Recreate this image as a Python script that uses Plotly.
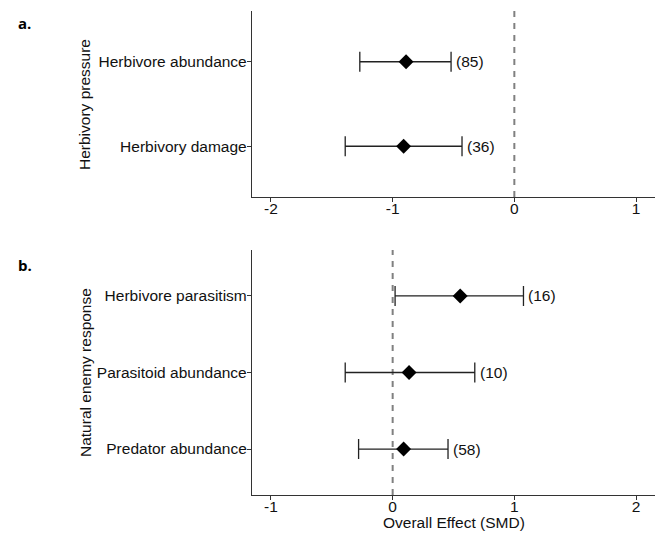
import plotly.graph_objects as go

# ---- data ----
pressure_cats = ["Herbivory damage", "Herbivore abundance"]
pressure_mean = [-0.91, -0.89]
pressure_lo = [-1.39, -1.27]
pressure_hi = [-0.43, -0.52]
pressure_n = ["(36)", "(85)"]

enemy_cats = ["Predator abundance", "Parasitoid abundance", "Herbivore parasitism"]
enemy_mean = [0.09, 0.135, 0.555]
enemy_lo = [-0.28, -0.39, 0.02]
enemy_hi = [0.455, 0.675, 1.075]
enemy_n = ["(58)", "(10)", "(16)"]

top_ticks = [-2, -1, 0, 1]
bottom_ticks = [-1, 0, 1, 2]

FONT = "Liberation Sans, Arial, sans-serif"
FS = 15.5
OFF = 8              # page body margin
W, H = 664 - OFF, 534 - OFF


def fx(px):
    return (px - OFF) / W


def fy(py):
    return (H - (py - OFF)) / H


fig = go.Figure()


def add_panel(cats, mean, lo, hi, xa, ya):
    fig.add_trace(go.Scatter(
        x=mean, y=cats, mode="markers",
        marker=dict(symbol="diamond", size=11.5, color="black"),
        error_x=dict(type="data", symmetric=False,
                     array=[h - m for h, m in zip(hi, mean)],
                     arrayminus=[m - l for m, l in zip(mean, lo)],
                     color="#222222", thickness=1.3, width=10),
        xaxis=xa, yaxis=ya, showlegend=False, hoverinfo="skip"))


add_panel(pressure_cats, pressure_mean, pressure_lo, pressure_hi, "x", "y")
add_panel(enemy_cats, enemy_mean, enemy_lo, enemy_hi, "x2", "y2")

annotations = []
for cats, hi, ns, xr, yr in [(pressure_cats, pressure_hi, pressure_n, "x", "y"),
                             (enemy_cats, enemy_hi, enemy_n, "x2", "y2")]:
    for c, h, n in zip(cats, hi, ns):
        annotations.append(dict(x=h, y=c, xref=xr, yref=yr, text=n, showarrow=False,
                                xanchor="left", yanchor="middle", xshift=3,
                                font=dict(family=FONT, size=FS, color="#111111")))

# dashed zero lines
for xr, yr in [("x", "y"), ("x2", "y2")]:
    fig.add_shape(type="line", x0=0, x1=0, y0=0, y1=1, xref=xr, yref=yr + " domain",
                  line=dict(color="#808080", width=2, dash="6px,6px"), layer="below")

xdom = [fx(252), fx(655)]
top_dom = [fy(197), fy(11)]
bot_dom = [fy(495), fy(250)]

axis_common = dict(showline=True, linecolor="#333333", linewidth=1.3, ticks="outside",
                   ticklen=4, tickwidth=1.2, tickcolor="#333333", showgrid=False,
                   zeroline=False, tickfont=dict(family=FONT, size=FS, color="#111111"))

fig.update_layout(
    width=W, height=H, plot_bgcolor="white", paper_bgcolor="white",
    margin=dict(l=0, r=0, t=0, b=0),
    xaxis=dict(domain=xdom, anchor="y", range=[-2.156, 1.156], tickvals=top_ticks,
               ticktext=[str(t) for t in top_ticks], ticklabelstandoff=-7, **axis_common),
    yaxis=dict(domain=top_dom, anchor="x", type="category", categoryorder="array",
               categoryarray=pressure_cats, range=[-0.6, 1.6], ticklabelstandoff=-3,
               **axis_common),
    xaxis2=dict(domain=xdom, anchor="y2", range=[-1.156, 2.156], tickvals=bottom_ticks,
                ticktext=[str(t) for t in bottom_ticks], ticklabelstandoff=-7, **axis_common),
    yaxis2=dict(domain=bot_dom, anchor="x2", type="category", categoryorder="array",
                categoryarray=enemy_cats, range=[-0.6, 2.6], ticklabelstandoff=-3,
                **axis_common),
    font=dict(family=FONT, size=FS, color="#111111"),
)

annotations += [
    dict(x=fx(85), y=fy(105), xref="paper", yref="paper", text="Herbivory pressure",
         textangle=-90, showarrow=False, xanchor="center", yanchor="middle",
         font=dict(family=FONT, size=FS, color="#111111")),
    dict(x=fx(85), y=fy(373), xref="paper", yref="paper", text="Natural enemy response",
         textangle=-90, showarrow=False, xanchor="center", yanchor="middle",
         font=dict(family=FONT, size=FS, color="#111111")),
    dict(x=fx(453.5), y=fy(522), xref="paper", yref="paper", text="Overall Effect (SMD)",
         showarrow=False, xanchor="center", yanchor="middle",
         font=dict(family=FONT, size=FS, color="#111111")),
    dict(x=fx(16), y=fy(23), xref="paper", yref="paper", text="<b>a.</b>",
         showarrow=False, xanchor="left", yanchor="middle",
         font=dict(family="Open Sans, sans-serif", size=15, color="black")),
    dict(x=fx(16), y=fy(265), xref="paper", yref="paper", text="<b>b.</b>",
         showarrow=False, xanchor="left", yanchor="middle",
         font=dict(family="Open Sans, sans-serif", size=15, color="black")),
]
fig.update_layout(annotations=annotations)

fig.write_html("out.html")
